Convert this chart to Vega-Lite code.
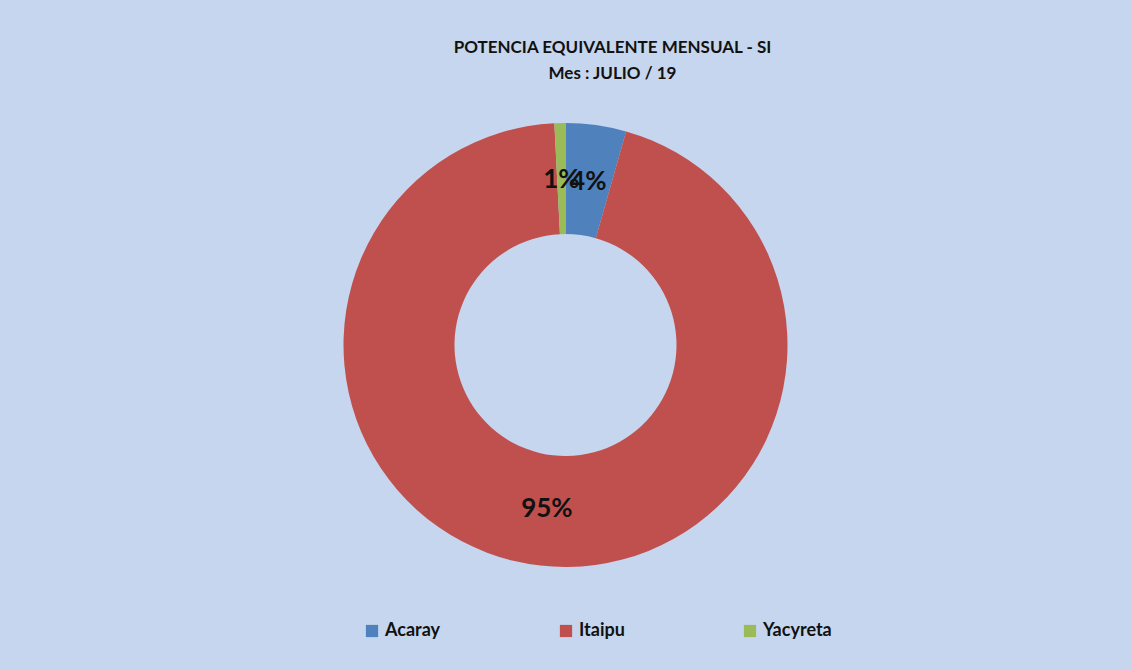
{
  "$schema": "https://vega.github.io/schema/vega-lite/v6.json",
  "autosize": "none",
  "width": 1131,
  "height": 490,
  "padding": {"top": 100, "left": 0, "right": 0, "bottom": 79},
  "background": "#c6d6ee",
  "title": {
    "text": ["POTENCIA EQUIVALENTE  MENSUAL - SI", "Mes :  JULIO  / 19"],
    "font": "Lato",
    "fontSize": 17,
    "fontWeight": "bold",
    "color": "#111111",
    "anchor": "middle",
    "lineHeight": 26,
    "offset": 17,
    "dx": 47
  },
  "data": {
    "values": [
      {"central": "Acaray", "share": 0.044},
      {"central": "Itaipu", "share": 0.948},
      {"central": "Yacyreta", "share": 0.008}
    ]
  },
  "encoding": {
    "theta": {"field": "share", "type": "quantitative", "stack": true},
    "order": {"field": "central", "type": "nominal"}
  },
  "layer": [
    {
      "mark": {"type": "arc", "outerRadius": 222, "innerRadius": 111},
      "encoding": {
        "color": {
          "field": "central",
          "type": "nominal",
          "scale": {"domain": ["Acaray", "Itaipu", "Yacyreta"], "range": ["#4F81BD", "#C0504D", "#9BBB59"]},
          "legend": {
            "title": null,
            "orient": "none",
            "direction": "horizontal",
            "legendX": 363,
            "legendY": 522,
            "padding": 0,
            "symbolType": "square",
            "symbolSize": 150,
            "symbolOpacity": 1,
            "symbolStrokeWidth": 0,
            "labelFont": "Lato",
            "labelFontSize": 18,
            "labelFontWeight": "bold",
            "labelColor": "#111111",
            "labelOffset": 4,
            "columnPadding": 116
          }
        }
      }
    },
    {
      "mark": {"type": "text", "radius": 165, "font": "Lato", "fontSize": 26, "fontWeight": "bold", "color": "#111111"},
      "encoding": {
        "detail": {"field": "central", "type": "nominal"},
        "text": {"field": "share", "type": "quantitative", "format": ".0%"}
      }
    }
  ],
  "config": {"view": {"stroke": null}}
}
